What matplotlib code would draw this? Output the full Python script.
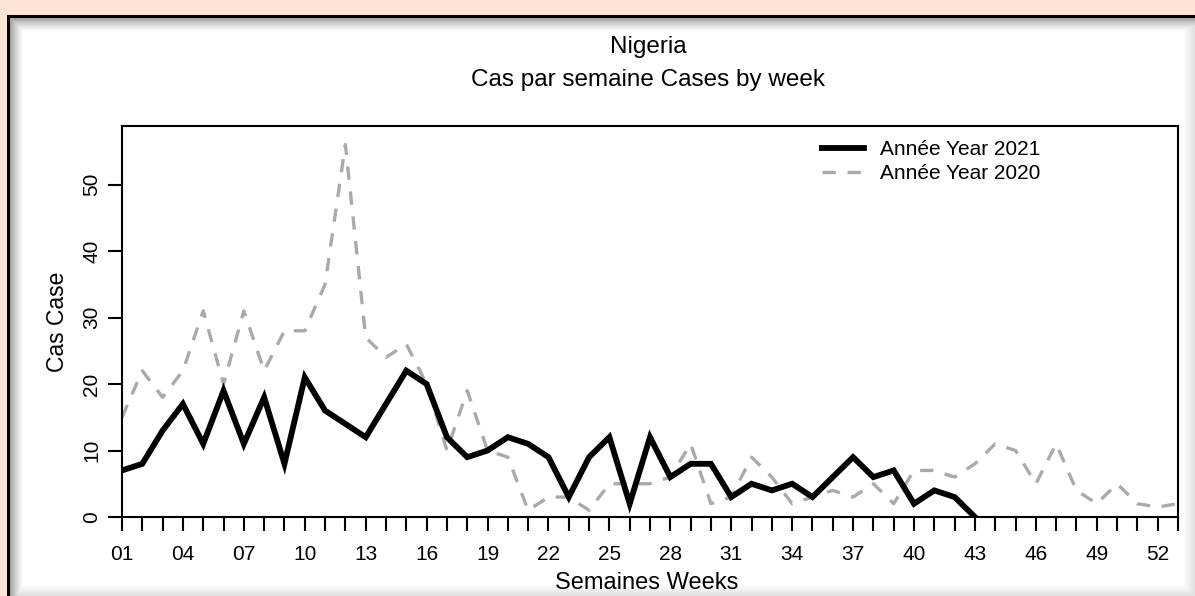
import numpy as np
import matplotlib
matplotlib.use("Agg")
import matplotlib.pyplot as plt

plt.rcParams['font.family'] = ['Liberation Sans', 'DejaVu Sans']

# weekly cases
weeks_2021 = list(range(1, 44))
cases_2021 = [7, 8, 13, 17, 11, 19, 11, 18, 8, 21,
              16, 14, 12, 17, 22, 20, 12, 9, 10, 12,
              11, 9, 3, 9, 12, 2, 12, 6, 8, 8,
              3, 5, 4, 5, 3, 6, 9, 6, 7, 2,
              4, 3, 0]

weeks_2020 = list(range(1, 54))
cases_2020 = [15, 22, 18, 22, 31, 20, 31, 22, 28, 28,
              35, 56, 27, 24, 26, 20, 10, 19, 10, 9,
              1, 3, 3, 1, 5, 5, 5, 6, 11, 2,
              3, 9, 6, 2, 3, 4, 3, 5, 2, 7,
              7, 6, 8, 11, 10, 5, 11, 4, 2, 5,
              2, 1.5, 2]

tick_weeks = list(range(1, 54))
labelled_weeks = list(range(1, 53, 3))

title_top = "Nigeria"
title_sub = "Cas par semaine Cases by week"
x_title = "Semaines Weeks"
y_title = "Cas Case"
label_2021 = "Année Year 2021"
label_2020 = "Année Year 2020"

W, H = 1195, 596
fig = plt.figure(figsize=(W / 100, H / 100), dpi=100)

# background: peach page, white panel with black border and inner shadow
img = np.ones((H, W, 3))
img[:, :] = np.array([252, 228, 214]) / 255
img[15:, 7:] = 1.0
for i in range(14):
    v = 0.55 + 0.45 * (i / 13) ** 0.7
    img[17 + i:, 9 + i] = np.minimum(img[17 + i:, 9 + i], v)
    img[17 + i, 9 + i:] = np.minimum(img[17 + i, 9 + i:], v)
for i in range(12):
    v = 1.0 - 0.12 * (i / 11)
    img[17:, W - 12 + i] = np.minimum(img[17:, W - 12 + i], v)
    img[H - 12 + i, 9:] = np.minimum(img[H - 12 + i, 9:], v)
img[15:18, 7:] = 0.0
img[15:, 7:10] = 0.0

bg = fig.add_axes([0, 0, 1, 1], zorder=0)
bg.imshow(img, aspect='auto', interpolation='nearest')
bg.axis('off')

left, right, top, bottom = 122, 1178, 126, 517
ax = fig.add_axes([left / W, 1 - bottom / H, (right - left) / W, (bottom - top) / H], zorder=1)
ax.set_facecolor('white')
for s in ax.spines.values():
    s.set_linewidth(1.5)
ax.spines['bottom'].set_position(('data', 0))

l20, = ax.plot(weeks_2020, cases_2020, color='#aaaaaa', lw=2.4,
               linestyle=(0, (4, 3.5)), zorder=2)
l21, = ax.plot(weeks_2021, cases_2021, color='black', lw=4.2, zorder=3,
               solid_joinstyle='miter')

ax.set_xlim(1, 53)
ax.set_ylim(0, 58.8)

ax.set_xticks(tick_weeks)
ax.set_xticklabels([f"{w:02d}" if w in labelled_weeks else "" for w in tick_weeks])
ax.set_yticks([0, 10, 20, 30, 40, 50])
ax.set_yticklabels(['0', '10', '20', '30', '40', '50'], rotation=90, va='center')
ax.tick_params(axis='x', length=10, width=1.5, direction='out', pad=10, labelsize=15)
ax.tick_params(axis='y', length=10, width=1.5, direction='out', pad=5, labelsize=15)

ax.set_xlabel(x_title, fontsize=17)
ax.xaxis.set_label_coords(0.497, -0.14)
ax.set_ylabel(y_title, fontsize=16.5)
ax.yaxis.set_label_coords(-0.05, 0.5)

fig.text(648 / W, 1 - 47 / H, title_top, ha='center', va='center', fontsize=17.5)
fig.text(648 / W, 1 - 80 / H, title_sub, ha='center', va='center', fontsize=17.5)

ax.legend([l21, l20], [label_2021, label_2020], loc='upper left',
          bbox_to_anchor=(0.655, 0.985), frameon=False, fontsize=15,
          handlelength=2.0, handletextpad=0.8, labelspacing=0.25,
          borderaxespad=0)

fig.savefig('out.png', dpi=100)
